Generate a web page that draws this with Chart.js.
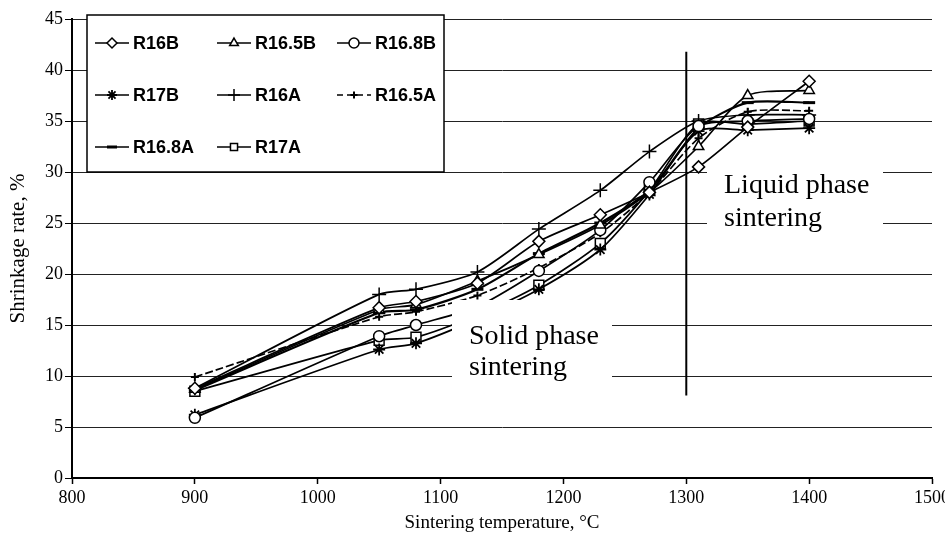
<!DOCTYPE html>
<html>
<head>
<meta charset="utf-8">
<script src="https://cdn.jsdelivr.net/npm/chart.js@4.4.1/dist/chart.umd.min.js"></script>
<style>
  html, body { margin: 0; padding: 0; background: #fff; }
</style>
</head>
<body>
<canvas id="chart" width="945" height="539"></canvas>
<script>
// sintering temperatures, °C
const temps = [900, 1050, 1080, 1130, 1180, 1230, 1270, 1310, 1350, 1400];

// shrinkage rate, %
const r16B   = [8.8, 16.7, 17.3, 19.1, 23.2, 25.8, 28.0, 30.5, 34.4, 38.9];
const r165B  = [8.7, 16.5, 17.0, 19.3, 21.9, 24.8, 28.0, 32.5, 37.5, 38.0];
const r168B  = [5.9, 13.9, 15.0, 16.8, 20.3, 24.3, 29.0, 34.5, 35.0, 35.2];
const r17B   = [6.2, 12.6, 13.2, 15.6, 18.5, 22.4, 27.8, 34.0, 34.1, 34.3];
const r16A   = [8.8, 18.0, 18.5, 20.2, 24.4, 28.2, 32.0, 35.0, 35.6, 35.6];
const r165A  = [9.9, 15.8, 16.3, 17.9, 20.6, 24.0, 28.0, 33.3, 35.9, 36.0];
const r168A  = [8.6, 16.2, 16.5, 18.5, 22.0, 25.0, 28.2, 34.3, 36.8, 36.8];
const r17A   = [8.5, 13.5, 13.8, 16.0, 18.9, 23.0, 28.2, 34.7, 34.7, 35.0];

const xTicks = [800, 900, 1000, 1100, 1200, 1300, 1400, 1500];
const yTicks = [0, 5, 10, 15, 20, 25, 30, 35, 40, 45];

// liquid phase boundary line
const boundaryTemp = 1300;
const boundaryFrom = 8.1;
const boundaryTo = 41.8;

const SERIF = "'Liberation Serif', 'Times New Roman', serif";
const SANS = "'Liberation Sans', Arial, sans-serif";

function series(label, values, style, extra) {
  return Object.assign({
    label: label,
    data: temps.map((t, i) => ({ x: t, y: values[i] })),
    borderColor: "#000",
    borderWidth: 1.7,
    pointStyle: style,
    pointRadius: 6,
    pointBorderWidth: 1.5,
    pointBorderColor: "#000",
    pointBackgroundColor: "#fff",
    tension: 0.25,
    fill: false
  }, extra || {});
}

const datasets = [
  series("R16B", r16B, "rectRot"),
  series("R16.5B", r165B, "triangle"),
  series("R16.8B", r168B, "circle", { pointRadius: 5.5 }),
  series("R17B", r17B, "star", { pointBorderWidth: 1.8 }),
  series("R16A", r16A, "cross", { pointRadius: 7 }),
  series("R16.5A", r165A, "cross", { pointRadius: 4, borderDash: [8, 3], pointBorderWidth: 2 }),
  series("R16.8A", r168A, "line", { borderWidth: 2.2, pointBorderWidth: 3 }),
  series("R17A", r17A, "rect", { pointRadius: 7 })
];

// ===== TEXT BOXES, BOUNDARY LINE, LEGEND =====
const overlays = {
  id: "overlays",
  afterDatasetsDraw(chart) {
    const ctx = chart.ctx;
    const xs = chart.scales.x, ys = chart.scales.y;
    ctx.save();

    // white text boxes hide lines under them
    ctx.fillStyle = "#fff";
    ctx.fillRect(452, 300, 160, 92);
    ctx.fillRect(707, 163, 176, 72);

    ctx.fillStyle = "#000";
    ctx.font = "28px " + SERIF;
    ctx.textAlign = "left";
    ctx.textBaseline = "alphabetic";
    ctx.fillText("Solid phase", 469, 344);
    ctx.fillText("sintering", 469, 375);
    ctx.fillText("Liquid phase", 724, 193);
    ctx.fillText("sintering", 724, 226);

    // boundary line
    const bx = xs.getPixelForValue(boundaryTemp);
    ctx.strokeStyle = "#000";
    ctx.lineWidth = 2;
    ctx.beginPath();
    ctx.moveTo(bx, ys.getPixelForValue(boundaryFrom));
    ctx.lineTo(bx, ys.getPixelForValue(boundaryTo));
    ctx.stroke();

    // legend box
    ctx.fillStyle = "#fff";
    ctx.fillRect(87, 15, 357, 157);
    ctx.lineWidth = 1.5;
    ctx.strokeRect(87, 15, 357, 157);

    const cols = [95, 217, 337];
    const rows = [43, 95, 147];
    chart.data.datasets.forEach((ds, i) => {
      const lx = cols[i % 3], ly = rows[Math.floor(i / 3)];
      ctx.save();
      ctx.strokeStyle = "#000";
      ctx.lineWidth = 1.6;
      if (ds.borderDash) ctx.setLineDash([6, 4]);
      ctx.beginPath();
      ctx.moveTo(lx, ly);
      ctx.lineTo(lx + 34, ly);
      ctx.stroke();
      ctx.setLineDash([]);
      ctx.fillStyle = "#fff";
      ctx.lineWidth = ds.pointBorderWidth;
      Chart.helpers.drawPoint(ctx, {
        pointStyle: ds.pointStyle,
        radius: ds.pointStyle === "cross" ? (ds.pointRadius > 5 ? 6 : 3.5) : 5,
        rotation: 0,
        borderWidth: ds.pointBorderWidth
      }, lx + 17, ly);
      ctx.restore();
      ctx.fillStyle = "#000";
      ctx.font = "bold 18px " + SANS;
      ctx.textBaseline = "middle";
      ctx.fillText(ds.label, lx + 38, ly + 1);
    });
    ctx.restore();
  }
};

new Chart(document.getElementById("chart"), {
  type: "line",
  data: { datasets: datasets },
  plugins: [overlays],
  options: {
    responsive: false,
    animation: false,
    devicePixelRatio: 1,
    layout: { padding: { top: 19, right: 13, left: 0, bottom: 0 } },
    plugins: { legend: { display: false }, tooltip: { enabled: false } },
    scales: {
      x: {
        type: "linear",
        min: 800,
        max: 1500,
        afterBuildTicks: s => { s.ticks = xTicks.map(v => ({ value: v })); },
        afterFit: s => { s.height = 61; s.paddingLeft = 0; s.paddingRight = 0; },
        ticks: {
          color: "#000",
          font: { family: SERIF, size: 18 },
          padding: 3,
          maxRotation: 0,
          callback: v => String(v)
        },
        grid: { drawOnChartArea: false, color: "#000", tickLength: 6, tickWidth: 1.5 },
        border: { color: "#000", width: 2 },
        title: {
          display: true,
          text: "Sintering temperature, °C",
          color: "#000",
          font: { family: SERIF, size: 19 },
          padding: { top: 4, bottom: 5 }
        }
      },
      y: {
        min: 0,
        max: 45,
        afterBuildTicks: s => { s.ticks = yTicks.map(v => ({ value: v })); },
        afterFit: s => { s.width = 72; },
        ticks: { color: "#000", font: { family: SERIF, size: 18 }, padding: 2 },
        grid: { color: "#222", lineWidth: 1, tickLength: 7, tickColor: "#000" },
        border: { color: "#000", width: 2 },
        title: {
          display: true,
          text: "Shrinkage rate, %",
          color: "#000",
          font: { family: SERIF, size: 21 },
          padding: { top: 6, bottom: 0 }
        }
      }
    }
  }
});
</script>
</body>
</html>
